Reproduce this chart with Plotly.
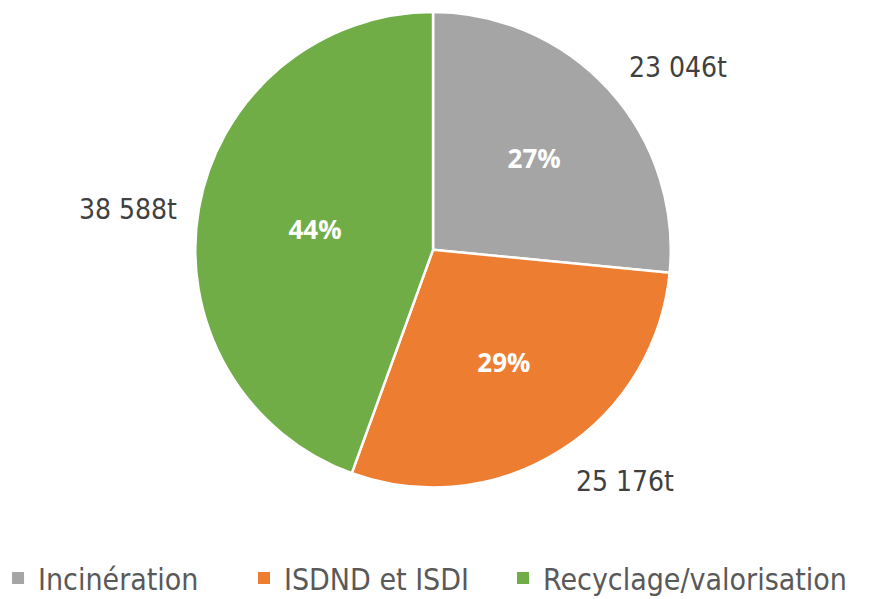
import plotly.graph_objects as go

# Data
categories = ['Incinération', 'ISDND et ISDI', 'Recyclage/valorisation']
tonnages = [23046, 25176, 38588]
colors = ['#A5A5A5', '#ED7D31', '#70AD47']

# outside value labels placement (paper coords)
label_pos = [(0.7666, 0.9015), (0.7059, 0.2087), (0.1373, 0.6628)]
# legend entries x position (paper coords)
legend_x = [-0.0114, 0.270, 0.5664]

value_labels = [f"{v:,}".replace(",", " ") + "t" for v in tonnages]

fig = go.Figure(go.Pie(
    labels=categories,
    values=tonnages,
    marker=dict(colors=colors, line=dict(color='white', width=2.5)),
    sort=False,
    direction='clockwise',
    rotation=0,
    texttemplate='<b>%{percent:.0%}</b>',
    textposition='inside',
    insidetextorientation='horizontal',
    textfont=dict(family='Open Sans', size=26, color='white'),
    hoverinfo='label+value+percent',
    showlegend=False,
    domain=dict(x=[0.2140, 0.7586], y=[0.1995, 0.9933]),
))

for txt, (x, y) in zip(value_labels, label_pos):
    fig.add_annotation(x=x, y=y, xref='paper', yref='paper', text=txt,
                       showarrow=False, xanchor='center', yanchor='middle',
                       font=dict(family='DejaVu Sans Condensed', size=28, color='#404040'))

# legend: one entry per legend box so spacing can follow the original
legend_names = ['legend', 'legend2', 'legend3']
for cat, col, lg in zip(categories, colors, legend_names):
    fig.add_trace(go.Scatter(x=[None], y=[None], mode='markers', name=cat,
                             marker=dict(symbol='square', size=12, color=col),
                             legend=lg, showlegend=True, hoverinfo='skip'))

legend_style = dict(orientation='h', xanchor='left', y=0.0484, yanchor='middle',
                    bgcolor='rgba(0,0,0,0)', itemsizing='trace',
                    font=dict(family='DejaVu Sans Condensed', size=30, color='#595959'))

fig.update_layout(
    width=874, height=599,
    margin=dict(l=0, r=0, t=0, b=0, autoexpand=False),
    paper_bgcolor='white',
    plot_bgcolor='white',
    xaxis=dict(visible=False),
    yaxis=dict(visible=False),
    legend=dict(x=legend_x[0], **legend_style),
    legend2=dict(x=legend_x[1], **legend_style),
    legend3=dict(x=legend_x[2], **legend_style),
)

fig.write_html("out.html")
